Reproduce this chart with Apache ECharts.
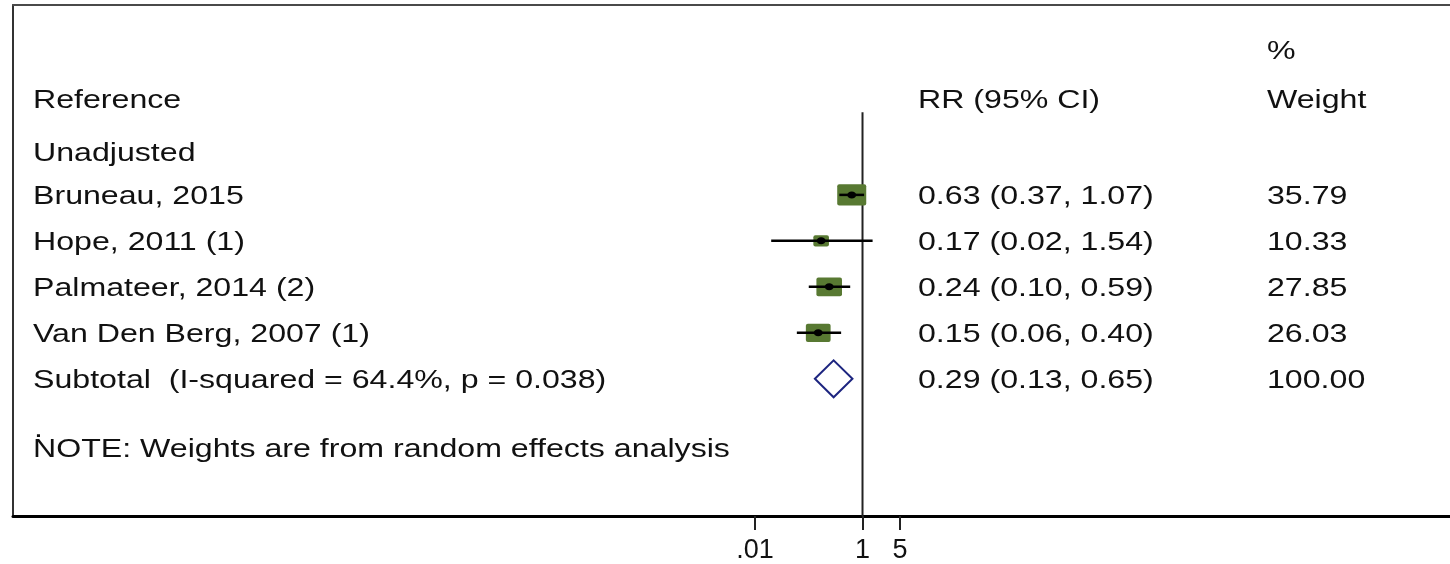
<!DOCTYPE html>
<html>
<head>
<meta charset="utf-8">
<script src="https://cdn.jsdelivr.net/npm/echarts@6/dist/echarts.min.js"></script>
<style>
  html, body { margin: 0; padding: 0; background: #fff; overflow: hidden; }
  #chart { width: 1450px; height: 564px; }
</style>
</head>
<body>
<div id="chart"></div>
<script>
// ---------------- data ----------------
const studies = ['Bruneau, 2015', 'Hope, 2011 (1)', 'Palmateer, 2014 (2)', 'Van Den Berg, 2007 (1)'];
const rr      = [0.63, 0.17, 0.24, 0.15];
const ciLow   = [0.37, 0.02, 0.10, 0.06];
const ciHigh  = [1.07, 1.54, 0.59, 0.40];
const weights = [35.79, 10.33, 27.85, 26.03];

const subtotalLabel = 'Subtotal  (I-squared = 64.4%, p = 0.038)';
const subtotalRR = 0.29;
const subtotalLow = 0.13;
const subtotalHigh = 0.65;
const subtotalWeight = 100.00;

const groupLabel = 'Unadjusted';
const headerStudy = 'Reference';
const headerRR = 'RR (95% CI)';
const headerWeightTop = '%';
const headerWeight = 'Weight';
const noteText = 'NOTE: Weights are from random effects analysis';

const tickValues = [0.01, 1, 5];
const tickLabels = ['.01', '1', '5'];

// ---------------- layout ----------------
const FONT = 'Liberation Sans, Arial, sans-serif';
const FS = 25;
const SX = 1.285;          // horizontal stretch of the reference picture
const TXT = '#111111';
const BOX = '#587932';
const DIAMOND = '#1d2580';
const TEXT_DY = 2.5;

// row positions (y axis units, inverted)
const ROW_PCT = -2.157, ROW_HEAD = -1.097, ROW_GROUP = 0.049, ROW_NOTE = 6.49, NULL_TOP = -0.795;
const studyRows = [1, 2, 3, 4];
const subtotalRow = 5;
// column positions on the layout axis
const COL_STUDY = 20, COL_RR = 905, COL_W = 1254;

const lg = v => Math.log10(v);
const fmt = v => v.toFixed(2);

// text items: [col, row, text]
const textItems = [
  [COL_W, ROW_PCT, headerWeightTop],
  [COL_STUDY, ROW_HEAD, headerStudy],
  [COL_RR, ROW_HEAD, headerRR],
  [COL_W, ROW_HEAD, headerWeight],
  [COL_STUDY, ROW_GROUP, groupLabel],
  [COL_STUDY, subtotalRow, subtotalLabel],
  [COL_RR, subtotalRow, fmt(subtotalRR) + ' (' + fmt(subtotalLow) + ', ' + fmt(subtotalHigh) + ')'],
  [COL_W, subtotalRow, fmt(subtotalWeight)],
  [COL_STUDY, ROW_NOTE, noteText],
  [COL_STUDY + 1, ROW_NOTE - 0.42, '.']
];
studies.forEach((s, i) => {
  textItems.push([COL_STUDY, studyRows[i], s]);
  textItems.push([COL_RR, studyRows[i], fmt(rr[i]) + ' (' + fmt(ciLow[i]) + ', ' + fmt(ciHigh[i]) + ')']);
  textItems.push([COL_W, studyRows[i], fmt(weights[i])]);
});

const studyData = studies.map((s, i) => [lg(rr[i]), studyRows[i], lg(ciLow[i]), lg(ciHigh[i]), weights[i]]);

const chart = echarts.init(document.getElementById('chart'), null, { renderer: 'canvas' });

const option = {
  animation: false,
  backgroundColor: '#ffffff',
  grid: {
    left: 13, right: 0, top: 5, bottom: 45, show: false
  },
  xAxis: [
    {
      type: 'value', position: 'bottom',
      min: -15.805, max: 10.93,
      splitLine: { show: false },
      axisLine: { show: true, onZero: false, lineStyle: { color: '#000', width: 3 } },
      axisTick: { show: true, customValues: tickValues.map(lg), length: 14, lineStyle: { color: '#222', width: 2 } },
      axisLabel: {
        show: true, customValues: tickValues.map(lg), margin: 21,
        fontSize: 27, fontFamily: FONT, color: TXT,
        formatter: v => {
          const i = tickValues.findIndex(t => Math.abs(lg(t) - v) < 1e-6);
          return i >= 0 ? tickLabels[i] : '';
        }
      }
    },
    {
      type: 'value', position: 'top', min: 0, max: 1437,
      axisLine: { show: true, onZero: false, lineStyle: { color: '#4a4a4a', width: 2 } },
      axisTick: { show: false }, axisLabel: { show: false }, splitLine: { show: false }
    }
  ],
  yAxis: {
    type: 'value', inverse: true, min: -3.13, max: 7.984, position: 'left',
    axisLine: { show: true, onZero: false, lineStyle: { color: '#333', width: 2 } },
    axisTick: { show: false }, axisLabel: { show: false }, splitLine: { show: false }
  },
  series: [
    // null line at RR = 1
    {
      type: 'custom', xAxisIndex: 0, data: [[lg(1), NULL_TOP, 7.984]],
      renderItem: (params, api) => {
        const a = api.coord([api.value(0), api.value(1)]);
        const b = api.coord([api.value(0), api.value(2)]);
        return { type: 'line', shape: { x1: a[0], y1: a[1], x2: b[0], y2: b[1] },
                 style: { stroke: '#222', lineWidth: 2 } };
      },
      z: 2
    },
    // study boxes, CI lines and points
    {
      type: 'custom', xAxisIndex: 0, data: studyData,
      renderItem: (params, api) => {
        const c = api.coord([api.value(0), api.value(1)]);
        const l = api.coord([api.value(2), api.value(1)]);
        const h = api.coord([api.value(3), api.value(1)]);
        const w = api.value(4);
        const bw = 4.85 * Math.sqrt(w), bh = 3.55 * Math.sqrt(w);
        return {
          type: 'group',
          children: [
            { type: 'rect', shape: { x: c[0] - bw / 2, y: c[1] - bh / 2, width: bw, height: bh, r: 2 },
              style: { fill: BOX } },
            { type: 'line', shape: { x1: l[0], y1: l[1], x2: h[0], y2: h[1] },
              style: { stroke: '#000', lineWidth: 2.5 } },
            { type: 'ellipse', shape: { cx: c[0], cy: c[1], rx: 4.5, ry: 3.5 },
              style: { fill: '#000' } }
          ]
        };
      },
      z: 3
    },
    // subtotal diamond
    {
      type: 'custom', xAxisIndex: 0,
      data: [[lg(subtotalRR), subtotalRow, lg(subtotalLow), lg(subtotalHigh)]],
      renderItem: (params, api) => {
        const c = api.coord([api.value(0), api.value(1)]);
        const l = api.coord([api.value(2), api.value(1)]);
        const h = api.coord([api.value(3), api.value(1)]);
        const hh = 18.5;
        return {
          type: 'polygon',
          shape: { points: [[l[0], c[1]], [c[0], c[1] - hh], [h[0], c[1]], [c[0], c[1] + hh]] },
          style: { fill: '#fff', stroke: DIAMOND, lineWidth: 2 }
        };
      },
      z: 3
    },
    // table text
    {
      type: 'custom', xAxisIndex: 1, data: textItems,
      renderItem: (params, api) => {
        const p = api.coord([api.value(0), api.value(1)]);
        const t = textItems[params.dataIndex][2];
        return {
          type: 'text', x: p[0], y: p[1] + TEXT_DY, scaleX: SX,
          style: { text: t, fontSize: FS, fontFamily: FONT, fill: TXT, align: 'left', verticalAlign: 'middle' }
        };
      },
      z: 4
    }
  ]
};
chart.setOption(option);
</script>
</body>
</html>
